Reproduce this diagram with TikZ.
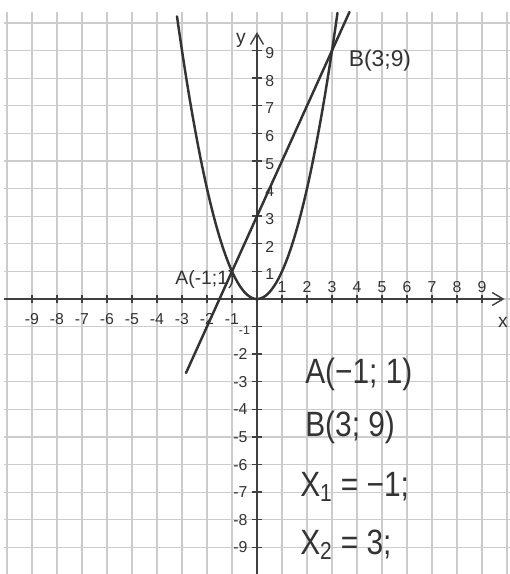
\documentclass[tikz,border=0pt]{standalone}
\usepackage{fontspec}
\setmainfont{Liberation Sans}
\usetikzlibrary{arrows.meta,calc}

\begin{document}
\begin{tikzpicture}[
  x=0.5cm, y=0.552cm,
  gridline/.style={draw=gray!40, line width=0.6pt},
  axis/.style={draw=black!75, line width=0.8pt},
  arr/.style={axis, -{Straight Barb[length=2.2mm, width=2.6mm]}},
  curve/.style={draw=black!80, line width=1.4pt, line cap=round},
  ticklab/.style={font=\fontsize{9}{10}\selectfont, text=black!80, inner sep=1pt},
  note/.style={font=\fontsize{11}{12}\selectfont, text=black!80, inner sep=1pt},
  answer/.style={font=\fontsize{20}{22}\selectfont, text=black!80, anchor=west, inner sep=0pt, xscale=0.85, transform shape}
]
\useasboundingbox (-10.28,-9.964) rectangle (10.12,10.833);
\fill[white] (-10.28,-9.964) rectangle (10.12,10.833);

% squared paper
\foreach \i in {-10,...,10}
  \draw[gridline] (\i,-9.964) -- (\i,10.4);
\foreach \j in {-9,...,10}
  \draw[gridline] (-10.12,\j) -- (10.12,\j);

% axes
\coordinate (xstart) at (-10.12,0);
\coordinate (xend) at (9.9,0);
\coordinate (ystart) at (0,-9.964);
\coordinate (yend) at (0,9.67);
\draw[arr] (xstart) -- (xend);
\draw[arr] (ystart) -- (yend);
\node[note] (xlab) at (9.84,-0.83) {x};
\node[note] (ylab) at (-0.64,9.38) {y};

\foreach \i in {-9,...,-1} {
  \draw[axis] (\i,-0.15) -- (\i,0.15);
  \node[ticklab] (xt\i) at (\i,-0.72) {\i};
}
\foreach \i in {1,...,9} {
  \draw[axis] (\i,-0.15) -- (\i,0.15);
  \node[ticklab] (xt\i) at (\i,0.42) {\i};
}
\foreach \j in {1,...,9} {
  \draw[axis] (-0.2,\j) -- (0.2,\j);
  \node[ticklab, anchor=west] (yt\j) at (0.25,{\j-0.1}) {\j};
}
\foreach \j in {-9,...,-2} {
  \draw[axis] (-0.2,\j) -- (0.2,\j);
  \node[ticklab, anchor=east] (yt\j) at (-0.3,\j) {\j};
}
\draw[axis] (-0.2,-1) -- (0.2,-1);
\node[ticklab, anchor=east, font=\fontsize{7}{8}\selectfont] (yt-1) at (-0.2,-1.15) {-1};

% graphs
\coordinate (A) at (-1,1);
\coordinate (B) at (3,9);
\draw[curve] plot[domain=-3.2:3.22, samples=90, smooth] (\x,{\x*\x});
\draw[curve] ($(A)!-0.46!(B)$) -- ($(A)!1.175!(B)$);
\node[note] (labA) at (-2.08,0.72) {A(-1;1)};
\node[note, font=\fontsize{13}{14}\selectfont] (labB) at (4.92,8.62) {B(3;9)};

% answer
\node[answer] (ansA) at (1.92,-2.75) {A(−1; 1)};
\node[answer] (ansB) at (1.92,-4.67) {B(3; 9)};
\node[answer] (ansX1) at (1.72,-6.81) {X\textsubscript{1} = −1;};
\node[answer] (ansX2) at (1.72,-8.91) {X\textsubscript{2} = 3;};
\end{tikzpicture}
\end{document}
